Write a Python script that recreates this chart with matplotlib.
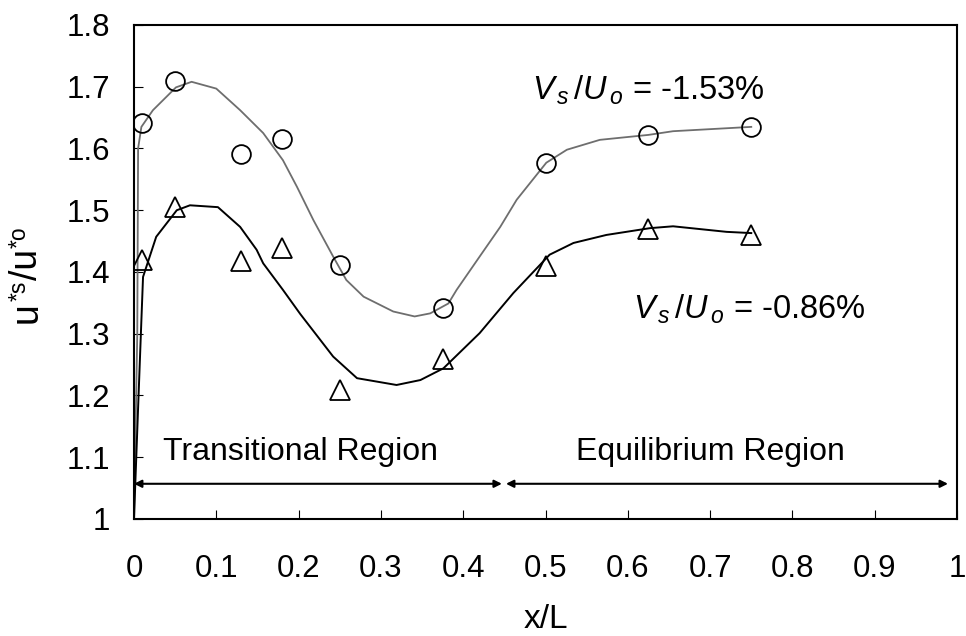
import matplotlib
matplotlib.use("Agg")
import matplotlib.pyplot as plt

plt.rcParams['font.family'] = ['Liberation Sans', 'DejaVu Sans']
plt.rcParams['mathtext.fontset'] = 'custom'
plt.rcParams['mathtext.rm'] = 'Liberation Sans'
plt.rcParams['mathtext.it'] = 'Liberation Sans:italic'

# measured points
x_pts = [0.01, 0.05, 0.13, 0.18, 0.25, 0.375, 0.5, 0.625, 0.75]
circ_y = [1.642, 1.710, 1.591, 1.615, 1.411, 1.341, 1.577, 1.622, 1.635]
tri_y = [1.420, 1.506, 1.417, 1.439, 1.209, 1.259, 1.409, 1.469, 1.460]

# fitted curve, Vs/Uo = -1.53%
fit1_x = [0.0, 0.004, 0.005, 0.009, 0.023, 0.051, 0.070, 0.100, 0.129, 0.157,
          0.181, 0.198, 0.218, 0.242, 0.258, 0.279, 0.315, 0.341, 0.360,
          0.382, 0.392, 0.420, 0.445, 0.465, 0.501, 0.526, 0.566, 0.625,
          0.655, 0.750]
fit1_y = [1.0, 1.30, 1.60, 1.635, 1.662, 1.699, 1.708, 1.697, 1.662, 1.625,
          1.581, 1.538, 1.484, 1.425, 1.387, 1.360, 1.336, 1.328, 1.333,
          1.349, 1.371, 1.425, 1.473, 1.517, 1.577, 1.598, 1.614, 1.622,
          1.628, 1.635]

# fitted curve, Vs/Uo = -0.86%
fit2_x = [0.0, 0.005, 0.009, 0.011, 0.027, 0.052, 0.068, 0.102, 0.129, 0.149,
          0.157, 0.181, 0.202, 0.242, 0.271, 0.319, 0.348, 0.376, 0.420,
          0.461, 0.505, 0.534, 0.574, 0.627, 0.655, 0.720, 0.750]
fit2_y = [1.0, 1.18, 1.322, 1.392, 1.457, 1.500, 1.508, 1.505, 1.473, 1.436,
          1.414, 1.371, 1.332, 1.263, 1.228, 1.217, 1.225, 1.244, 1.301,
          1.366, 1.428, 1.447, 1.460, 1.471, 1.474, 1.465, 1.463]

fig = plt.figure(figsize=(9.66, 6.36), dpi=100)
ax = fig.add_axes([0.1387, 0.184, 0.852, 0.7767])

ax.plot(fit1_x, fit1_y, color='#6e6e6e', lw=1.3, zorder=2)
ax.plot(fit2_x, fit2_y, color='black', lw=1.4, zorder=2)
ax.plot(x_pts, circ_y, 'o', ms=13.5, mfc='none', mec='black', mew=1.3, zorder=3)
ax.plot(x_pts, tri_y, '^', ms=15, mfc='none', mec='black', mew=1.3, zorder=3)

ax.text(0.4836, 1.679, r'$V_{\,s}\,/U_{\,o}$ = -1.53%', fontsize=23.5, ha='left', va='baseline')
ax.text(0.606, 1.325, r'$V_{\,s}\,/U_{\,o}$ = -0.86%', fontsize=23.5, ha='left', va='baseline')

# region markers
arr = dict(arrowstyle='<|-|>', color='black', lw=1.5, mutation_scale=11,
           shrinkA=0, shrinkB=0)
ax.annotate('', xy=(0.0, 1.057), xytext=(0.447, 1.057), arrowprops=arr)
ax.annotate('', xy=(0.452, 1.057), xytext=(0.989, 1.057), arrowprops=arr)
ax.text(0.035, 1.0955, 'Transitional Region', fontsize=23, ha='left', va='baseline')
ax.text(0.537, 1.0955, 'Equilibrium Region', fontsize=23, ha='left', va='baseline')

ax.set_xlim(0, 1)
ax.set_ylim(1, 1.8)
ax.set_xticks([0, 0.1, 0.2, 0.3, 0.4, 0.5, 0.6, 0.7, 0.8, 0.9, 1])
ax.set_xticklabels(['0', '0.1', '0.2', '0.3', '0.4', '0.5', '0.6', '0.7', '0.8', '0.9', '1'])
ax.set_yticks([1, 1.1, 1.2, 1.3, 1.4, 1.5, 1.6, 1.7, 1.8])
ax.set_yticklabels(['1', '1.1', '1.2', '1.3', '1.4', '1.5', '1.6', '1.7', '1.8'])
ax.tick_params(axis='both', direction='in', length=6.5, width=0.8, labelsize=22.5)
ax.tick_params(axis='x', pad=25)
ax.tick_params(axis='y', pad=17)
for s in ax.spines.values():
    s.set_linewidth(1.5)

ax.set_xlabel('x/L', fontsize=24)
ax.xaxis.label.set_va('baseline')
ax.xaxis.set_label_coords(0.5, -0.2206)

# y label built piece by piece so the small "*s" / "*o" sit slightly raised
renderer = fig.canvas.get_renderer()
ypos = 313.0
for txt, size, rise in [('u', 27, 0), ('*s', 16.5, 11), ('/u', 27, 0), ('*o', 16.5, 11)]:
    t = fig.text((37 - rise) / 966, ypos / 636, txt, fontsize=size, rotation=90,
                 rotation_mode='anchor', ha='left', va='baseline')
    ypos += t.get_window_extent(renderer).height + 1

fig.savefig('out.png', dpi=100)
